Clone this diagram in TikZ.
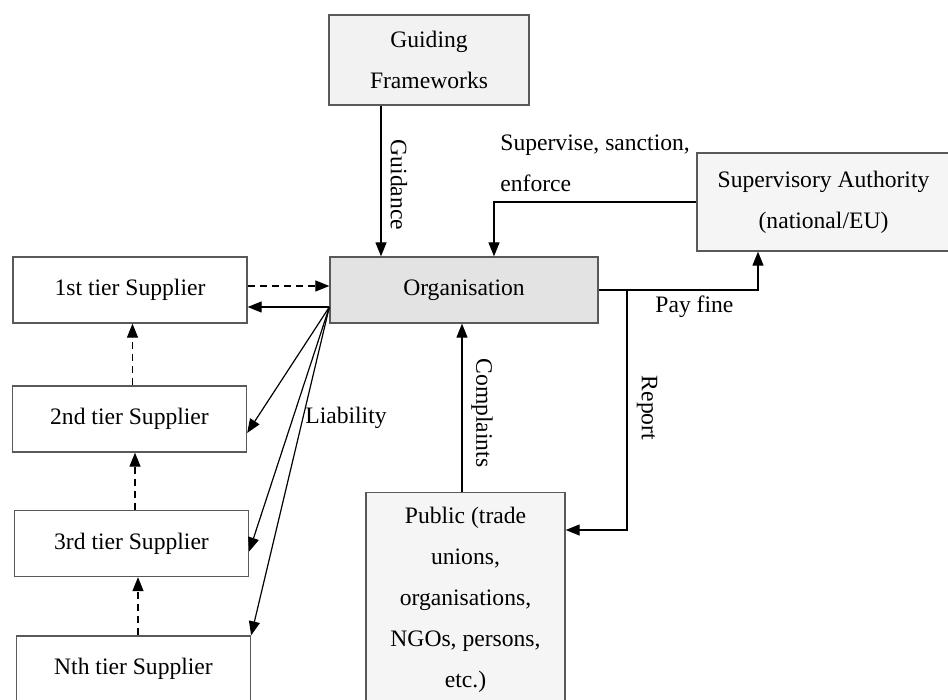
\documentclass[tikz,border=0pt]{standalone}
\usepackage{fontspec}
\setmainfont{Liberation Serif}
\usetikzlibrary{arrows.meta}
\newcommand\figfont{\fontsize{11.8}{20.5}\selectfont}
\tikzset{
  box/.style={draw=black!65, line width=0.65pt, inner sep=0pt, align=center, font=\figfont},
  tierbox/.style={box, fill=white, minimum width=117pt, minimum height=33pt},
  link/.style={-{Triangle[length=7pt,width=5.5pt]}, line width=0.6pt},
  duty/.style={link, dash pattern=on 3.5pt off 2.5pt},
  lbl/.style={font=\figfont, inner sep=0pt}
}
\begin{document}
\begin{tikzpicture}[x=0.5pt, y=-0.5pt]
  \useasboundingbox (0,0) rectangle (948,700);

  % main actors
  \node[box, fill=black!5, minimum width=100pt, minimum height=45pt] (guide) at (429,60) {Guiding\\Frameworks};
  \node[box, fill=black!4, minimum width=126.5pt, minimum height=49pt] (auth) at (823.5,202) {Supervisory Authority\\(national/EU)};
  \node[box, fill=black!11, minimum width=134pt, minimum height=33pt] (org) at (464,290) {Organisation};
  \node[box, fill=black!4, minimum width=99.5pt, anchor=north, inner ysep=7pt] (pub) at (465.5,492)
    {Public (trade\\unions,\\organisations,\\NGOs, persons,\\etc.)\\[40pt]};

  % supply chain
  \node[tierbox] (s1) at (130,290) {1st tier Supplier};
  \node[tierbox] (s2) at (129.5,419) {2nd tier Supplier};
  \node[tierbox] (s3) at (131.5,543.5) {3rd tier Supplier};
  \node[tierbox] (sN) at (133.5,669) {Nth tier Supplier};

  % helper coordinates
  \coordinate (gx) at (381,0);
  \coordinate (sx) at (494,0);
  \coordinate (px) at (758,0);
  \coordinate (rx) at (627,0);
  \coordinate (ry) at (0,530);
  \coordinate (cx) at (462,0);
  \coordinate (liab) at ([yshift=-8.5pt]org.west);

  % guidance and supervision
  \draw[link] (guide.south -| gx) -- (org.north -| gx);
  \node[lbl, rotate=-90] (guidance) at (399,185) {Guidance};
  \draw[link] (auth.west) -| (org.north -| sx);
  \node[lbl, align=left, anchor=west] (supervise) at (500,163) {Supervise, sanction,\\enforce};
  \draw[link] (org.east) -| (auth.south -| px);
  \node[lbl, anchor=west] (payfine) at (655,307) {Pay fine};

  % public
  \draw[link] (org.east -| rx) |- (pub.east |- ry);
  \node[lbl, rotate=-90] (report) at (647,408) {Report};
  \draw[link] (pub.north -| cx) -- (org.south -| cx);
  \node[lbl, rotate=-90] (complaints) at (482,413) {Complaints};

  % supplier duties and liability
  \draw[duty] ([yshift=2pt]s1.east) -- ([yshift=2pt]org.west);
  \draw[duty] ([xshift=1.5pt]s2.north) -- ([xshift=1.5pt]s2.north |- s1.south);
  \draw[duty] ([xshift=1.75pt]s3.north) -- ([xshift=1.75pt]s3.north |- s2.south);
  \draw[duty] ([xshift=2.25pt]sN.north) -- ([xshift=2.25pt]sN.north |- s3.south);
  \draw[link] (liab) -- (s1.east |- liab);
  \draw[link] (liab) -- ([yshift=-7pt]s2.east);
  \draw[link] (liab) -- ([yshift=-4pt]s3.east);
  \draw[link] (liab) -- (sN.north east);
  \node[lbl] (liability) at (346,418) {Liability};
\end{tikzpicture}
\end{document}
